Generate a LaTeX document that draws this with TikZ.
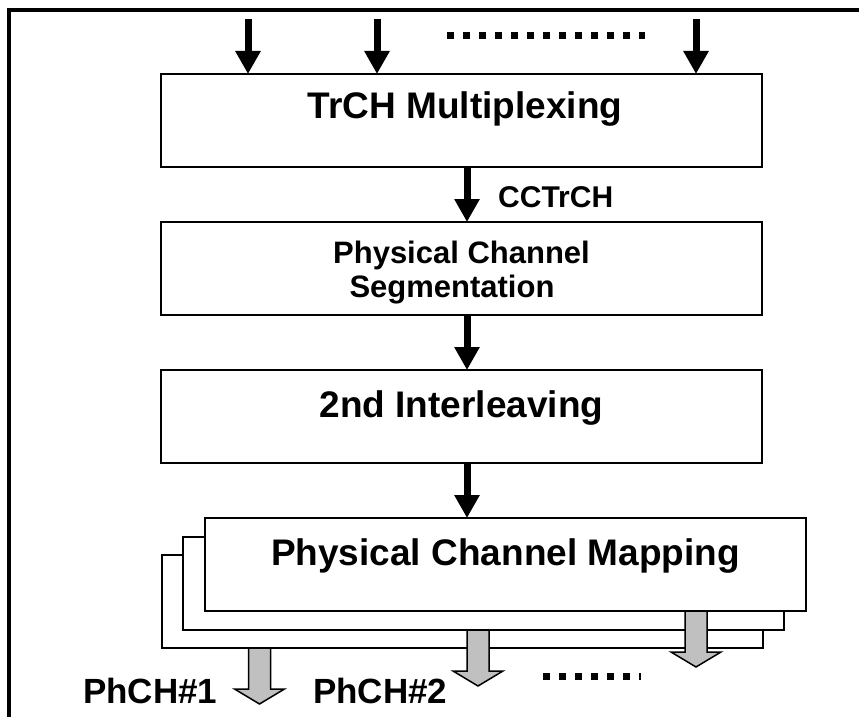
\documentclass[tikz,border=0pt]{standalone}
\usepackage{fontspec}
\setmainfont{Liberation Sans}
\usetikzlibrary{arrows.meta}
\definecolor{chgray}{RGB}{192,192,192}
\begin{document}
\begin{tikzpicture}[x=1pt,y=-1pt,
  blk/.style={draw,line width=2pt,fill=white,minimum width=601pt,minimum height=93pt,inner sep=0pt,outer sep=0pt},
  lbl/.style={inner sep=0pt,anchor=base,font=\bfseries\fontsize{37}{44}\selectfont},
  sublbl/.style={inner sep=0pt,anchor=base,font=\bfseries\fontsize{31}{36}\selectfont},
  chlbl/.style={inner sep=0pt,anchor=base west,font=\bfseries\fontsize{35}{40}\selectfont},
  flow/.style={line width=7pt,-{Triangle[length=23pt,width=24pt]}},
  dotrow/.style={line width=7pt,dash pattern=on 7pt off 9pt},
  garrow/.style={draw,line width=1.5pt,fill=chgray,line join=miter},
  phch/.pic={\draw[garrow] (-11,0) -- (-11,41) -- (-25,41) -- (0,56) -- (25,41) -- (11,41) -- (11,0) -- cycle;}
]
\useasboundingbox (0,0) rectangle (859,717);
\clip (0,0) rectangle (859,717);

% outer frame (continues past the page edges)
\draw[line width=3.5pt] (9,740) -- (9,10) -- (880,10);

% processing chain
\node[blk] (mux) at (461.5,120.5) {};
\node[lbl] (muxt) at (465,118) {TrCH Multiplexing};

\node[blk] (seg) at (461.5,268.5) {};
\node[sublbl] (segt1) at (461.5,263) {Physical Channel};
\node[sublbl] (segt2) at (452,297) {Segmentation};

\node[blk] (il) at (461.5,416.5) {};
\node[lbl] (ilt) at (461.5,417) {2nd Interleaving};

% transport channel inputs
\coordinate (in1) at (248,19);
\coordinate (in2) at (377,19);
\coordinate (in3) at (696,19);
\foreach \c in {in1,in2,in3}
  \draw[flow] (\c) -- (\c |- mux.north);
\coordinate (d1s) at (447,36);
\coordinate (d1e) at (645,36);
\draw[dotrow] (d1s) -- (d1e);

% chain connectors
\draw[flow] ([xshift=5.5pt]mux.south) -- ([xshift=5.5pt]seg.north);
\node[sublbl,anchor=base west,font=\bfseries\fontsize{30}{36}\selectfont] (cct) at (498,207) {CCTrCH};
\draw[flow] ([xshift=5.5pt]seg.south) -- ([xshift=5.5pt]il.north);

% stacked physical channel mapping blocks
\node[blk] (back) at (462,601.5) {};
\pic at ([xshift=-202.5pt]back.south) {phch};
\node[blk] (mid) at (483,583.5) {};
\pic at ([xshift=-5pt]mid.south) {phch};
\node[blk] (front) at (505.5,564.5) {};
\pic at ([xshift=190.5pt]front.south) {phch};
\node[lbl] (mapt) at (505.5,565) {Physical Channel Mapping};

\coordinate (ilo) at ([xshift=5.5pt]il.south);
\draw[flow] (ilo) -- (ilo |- front.north);

% physical channel outputs
\node[chlbl] (ph1) at (83,703) {PhCH\#1};
\node[chlbl] (ph2) at (313,703) {PhCH\#2};
\coordinate (d2s) at (543,676);
\coordinate (d2e) at (641,676);
\draw[dotrow] (d2s) -- (d2e);
\end{tikzpicture}
\end{document}
